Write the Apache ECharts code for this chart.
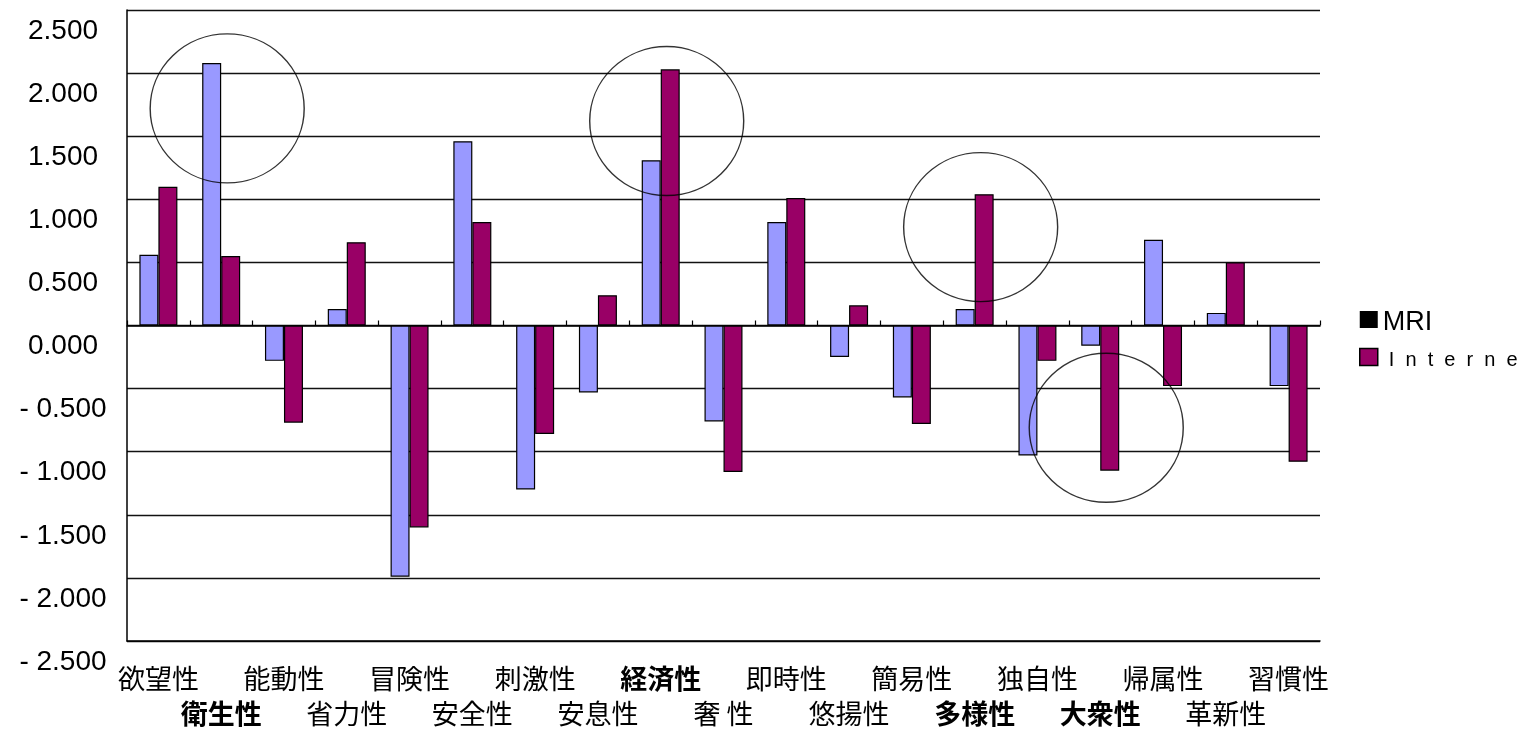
<!DOCTYPE html>
<html>
<head>
<meta charset="utf-8">
<script src="https://cdn.jsdelivr.net/npm/echarts@6/dist/echarts.min.js"></script>
<style>
html,body{margin:0;padding:0;background:#fff;}
#chart{width:1519px;height:748px;}
</style>
</head>
<body>
<div id="chart"></div>
<script>
const categories = ['欲望性','衛生性','能動性','省力性','冒険性','安全性','刺激性','安息性','経済性','奢 性','即時性','悠揚性','簡易性','多様性','独自性','大衆性','帰属性','革新性','習慣性'];
const seriesNames = ['MRI','Interne'];
const mriValues = [0.56, 2.08, -0.28, 0.13, -1.99, 1.46, -1.30, -0.53, 1.31, -0.76, 0.82, -0.25, -0.57, 0.13, -1.03, -0.16, 0.68, 0.10, -0.48];
const internetValues = [1.10, 0.55, -0.77, 0.66, -1.60, 0.82, -0.86, 0.24, 2.03, -1.16, 1.01, 0.16, -0.78, 1.04, -0.28, -1.15, -0.48, 0.50, -1.08];
const boldCategories = ['衛生性','経済性','多様性','大衆性'];
const circledCategories = ['衛生性','経済性','多様性','大衆性'];
const circleCenterValues = [1.72, 1.62, 0.78, -0.81];
const yTicks = { min: -2.5, max: 2.5, interval: 0.5 };

const chart = echarts.init(document.getElementById('chart'));

function fmtY(v) {
  const a = Math.abs(v).toFixed(3);
  return v < 0 ? '- ' + a : a;
}

const option = {
  animation: false,
  backgroundColor: '#fff',
  grid: { left: 127, right: 199, top: 10, bottom: 107, containLabel: false },
  legend: {
    orient: 'vertical',
    left: 1354,
    top: 298,
    itemWidth: 18,
    itemHeight: 17,
    itemGap: 8,
    icon: 'rect',
    selectedMode: false,
    data: [
      { name: 'MRI', itemStyle: { color: '#000000', borderColor: '#000', borderWidth: 0 } },
      { name: 'Interne', itemStyle: { color: '#990066', borderColor: '#000', borderWidth: 1.5 } }
    ],
    formatter: function (name) {
      if (name === 'MRI') return '{m|MRI}';
      return '{i|' + name.split('').join('  ') + '}';
    },
    textStyle: {
      rich: {
        m: { fontFamily: 'Liberation Sans, Arial', fontSize: 27, color: '#000', lineHeight: 30, padding: [6, 0, 0, 0] },
        i: { fontFamily: 'Liberation Sans, Arial', fontSize: 20, color: '#000', lineHeight: 30, padding: [6, 0, 0, 6] }
      }
    }
  },
  xAxis: [
    {
      type: 'category',
      data: categories,
      position: 'bottom',
      axisLine: { onZero: false, lineStyle: { color: '#000', width: 1.5 } },
      axisTick: { show: false },
      splitLine: { show: false },
      axisLabel: {
        interval: 0,
        hideOverlap: false,
        margin: 20,
        verticalAlign: 'top',
        formatter: function (value, index) {
          const s = boldCategories.indexOf(value) >= 0 ? 'b' : 'r';
          return index % 2 === 0 ? '{' + s + '|' + value + '}\n{r| }' : '{r| }\n{' + s + '|' + value + '}';
        },
        rich: {
          r: { fontFamily: 'Noto Sans CJK JP', fontSize: 27, color: '#000', lineHeight: 35 },
          b: { fontFamily: 'Noto Sans CJK JP', fontSize: 27, fontWeight: 'bold', color: '#000', lineHeight: 35 }
        }
      }
    },
    {
      type: 'category',
      data: categories,
      position: 'bottom',
      axisLine: { onZero: true, lineStyle: { color: '#000', width: 1.5 } },
      axisTick: { show: true, inside: true, length: 5, lineStyle: { color: '#000', width: 1.2 } },
      axisLabel: { show: false },
      splitLine: { show: false }
    }
  ],
  yAxis: {
    type: 'value',
    min: yTicks.min,
    max: yTicks.max,
    interval: yTicks.interval,
    axisLine: { show: true, lineStyle: { color: '#000', width: 1.5 } },
    axisTick: { show: false },
    splitLine: { show: true, lineStyle: { color: '#111', width: 1.3 } },
    axisLabel: {
      formatter: fmtY,
      align: 'center',
      margin: 64,
      verticalAlign: 'top',
      padding: [7, 0, 0, 0],
      fontFamily: 'Liberation Sans, Arial',
      fontSize: 28,
      color: '#000'
    }
  },
  series: [
    {
      name: seriesNames[0],
      type: 'bar',
      xAxisIndex: 0,
      data: mriValues,
      barWidth: 19,
      barGap: '0%',
      itemStyle: { color: '#9999FF', borderColor: '#000', borderWidth: 1.2 },
      silent: true,
      z: 2
    },
    {
      name: seriesNames[1],
      type: 'bar',
      xAxisIndex: 0,
      data: internetValues,
      barWidth: 19,
      barGap: '0%',
      itemStyle: { color: '#990066', borderColor: '#000', borderWidth: 1.2 },
      silent: true,
      z: 2
    },
    {
      name: 'circles',
      type: 'scatter',
      xAxisIndex: 0,
      data: circledCategories.map(function (c, i) { return [c, circleCenterValues[i]]; }),
      symbol: 'circle',
      symbolSize: [154, 149],
      symbolOffset: [6, 0],
      itemStyle: { color: 'rgba(0,0,0,0)', borderColor: '#000', borderWidth: 1.4 },
      silent: true,
      z: 5
    }
  ]
};
chart.setOption(option);
</script>
</body>
</html>
